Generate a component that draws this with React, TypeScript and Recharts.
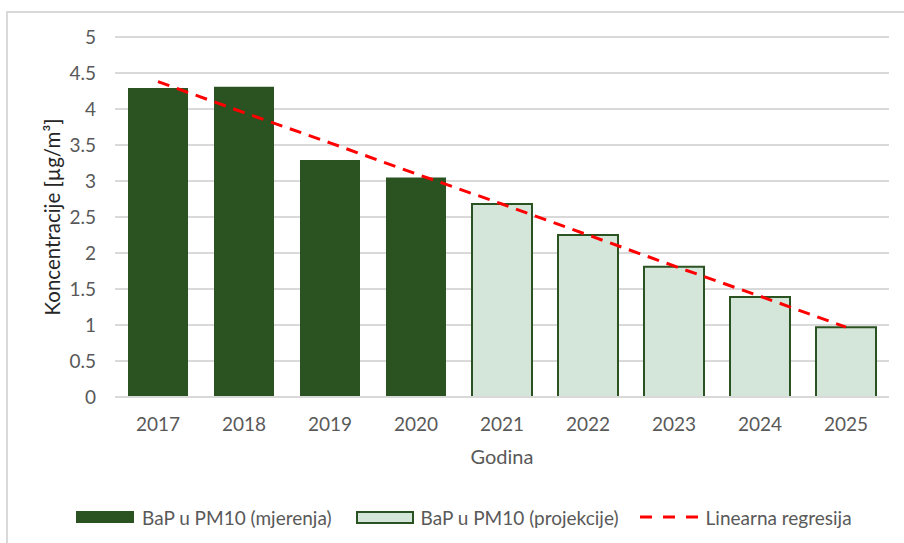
import React from 'react';
import { ComposedChart, Bar, Line, XAxis, YAxis, CartesianGrid } from 'recharts';

const years = ['2017', '2018', '2019', '2020', '2021', '2022', '2023', '2024', '2025'];
const measured = [4.29, 4.31, 3.29, 3.05, null, null, null, null, null];
const projected = [null, null, null, null, 2.68, 2.25, 1.81, 1.39, 0.97];
const trend = [4.38, 3.95, 3.53, 3.1, 2.68, 2.25, 1.82, 1.4, 0.97];
const yTicks = [0, 0.5, 1, 1.5, 2, 2.5, 3, 3.5, 4, 4.5, 5];
const legendLabels = ['BaP u PM10 (mjerenja)', 'BaP u PM10 (projekcije)', 'Linearna regresija'];

const data = years.map((y, i) => ({
  year: y,
  measured: measured[i],
  projected: projected[i],
  trend: trend[i],
}));

const FONT = 'Lato, "Open Sans", sans-serif';
const DARK = '#2B5221';
const LIGHT = '#D4E6DA';
const TXT = '#595959';
const GRID = '#d9d9d9';

function LegendBox() {
  return (
    <div
      style={{
        position: 'absolute',
        left: 76,
        top: 505,
        height: 24,
        display: 'flex',
        alignItems: 'center',
        fontFamily: FONT,
        fontSize: 19,
        color: TXT,
        whiteSpace: 'nowrap',
      }}
    >
      <div style={{ width: 58, height: 12, background: DARK }} />
      <span style={{ marginLeft: 8 }}>{legendLabels[0]}</span>
      <div
        style={{
          marginLeft: 24,
          width: 54,
          height: 9,
          background: LIGHT,
          border: `2px solid ${DARK}`,
        }}
      />
      <span style={{ marginLeft: 7 }}>{legendLabels[1]}</span>
      <svg width={58} height={6} style={{ marginLeft: 21 }}>
        <line x1={0} y1={3} x2={58} y2={3} stroke="#FF0000" strokeWidth={3} strokeDasharray="12 11" />
      </svg>
      <span style={{ marginLeft: 8 }}>{legendLabels[2]}</span>
    </div>
  );
}

export default function App() {
  return (
    <div
      style={{
        position: 'absolute',
        left: 0,
        top: 0,
        width: 904,
        height: 543,
        background: '#fff',
        overflow: 'hidden',
        fontFamily: FONT,
      }}
    >
      <div
        style={{
          position: 'absolute',
          left: 6,
          top: 11,
          width: 920,
          height: 560,
          borderLeft: `2px solid ${GRID}`,
          borderTop: `2px solid ${GRID}`,
        }}
      />
      <div style={{ position: 'absolute', left: 0, top: 0 }}>
        <ComposedChart
          width={904}
          height={543}
          data={data}
          margin={{ top: 37, right: 15, bottom: 116, left: 0 }}
        >
          <CartesianGrid vertical={false} stroke={GRID} strokeWidth={2} />
          <XAxis
            dataKey="year"
            height={30}
            axisLine={{ stroke: GRID, strokeWidth: 2 }}
            tickLine={false}
            tickSize={0}
            tickMargin={21}
            tick={{ fontSize: 19, fill: TXT, fontFamily: FONT }}
            label={{
              content: () => (
                <text x={502} y={464} textAnchor="middle" fontSize={20} fill={TXT} fontFamily={FONT}>
                  Godina
                </text>
              ),
            }}
          />
          <YAxis
            domain={[0, 5]}
            ticks={yTicks}
            width={115}
            axisLine={false}
            tickLine={false}
            tickSize={0}
            tickMargin={19}
            interval={0}
            tick={{ fontSize: 19, fill: TXT, fontFamily: FONT }}
            label={{
              content: () => (
                <text
                  x={52}
                  y={217}
                  transform="rotate(-90 52 217)"
                  textAnchor="middle"
                  dominantBaseline="central"
                  fontSize={20.5}
                  fill="#262626"
                  fontFamily={FONT}
                >
                  Koncentracije [µg/m³]
                </text>
              ),
            }}
          />
          <Bar dataKey="measured" stackId="a" fill={DARK} barSize={60} isAnimationActive={false} />
          <Bar
            dataKey="projected"
            stackId="a"
            fill={LIGHT}
            stroke={DARK}
            strokeWidth={2}
            barSize={60}
            isAnimationActive={false}
          />
          <Line
            dataKey="trend"
            type="linear"
            stroke="#FF0000"
            strokeWidth={3}
            strokeDasharray="12 8"
            dot={false}
            activeDot={false}
            isAnimationActive={false}
          />
        </ComposedChart>
      </div>
      <LegendBox />
    </div>
  );
}
